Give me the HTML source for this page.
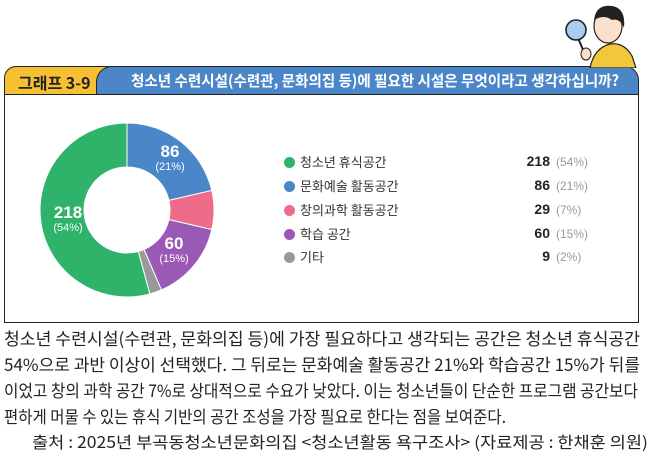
<!DOCTYPE html>
<html><head><meta charset="utf-8">
<style>
html,body{margin:0;padding:0;background:#fff;}
body{width:658px;height:463px;position:relative;overflow:hidden;font-family:"Liberation Sans","Noto Sans CJK KR",sans-serif;}
.abs{position:absolute;white-space:nowrap;}
.box{position:absolute;left:4px;top:94px;width:633px;height:227px;border:1.5px solid #222;background:#fff;}
.tab{position:absolute;left:4px;top:66px;width:110px;height:29px;background:#f6c033;border-radius:12px 0 0 0;border:1.5px solid #222;border-bottom:none;box-sizing:border-box;}
.bar{position:absolute;left:96px;top:66px;width:543px;height:29px;background:#4a86c8;border-radius:16px 14px 0 0;border:1.5px solid #222;border-bottom:none;box-sizing:border-box;}
.tabt{left:18px;top:70px;font-size:16px;font-weight:bold;color:#222;font-family:"Noto Sans CJK KR",sans-serif;}
.bart{left:131px;top:70px;font-size:15px;font-weight:bold;color:#fff;font-family:"Noto Sans CJK KR",sans-serif;}
.leg{font-size:13px;color:#333;font-family:"Noto Sans CJK KR",sans-serif;}
.dot{position:absolute;width:11px;height:11px;border-radius:50%;}
.num{font-size:14px;font-weight:bold;color:#222;text-align:right;width:60px;}
.pct{font-size:12px;color:#999;}
.para{left:4px;font-size:17px;color:#222;font-family:"Noto Sans CJK KR",sans-serif;transform-origin:0 0;}
.fit{display:inline-block;}
</style></head><body>
<div class="tab"></div>
<div class="bar"></div>
<div class="abs tabt">그래프 3-9</div>
<div class="abs bart fit" data-w="488" style="transform-origin:0 0">청소년 수련시설(수련관, 문화의집 등)에 필요한 시설은 무엇이라고 생각하십니까?</div>
<div class="box"></div>

<svg class="abs" style="left:560px;top:0" width="80" height="68" viewBox="0 0 80 68">
<path d="M30 68 Q34 48 50 44 Q64 42 72 56 L76 68 Z" fill="#f3c73b" stroke="#222" stroke-width="1.2"/>
<ellipse cx="48" cy="26" rx="14" ry="17" fill="#fbe0cc" stroke="#222" stroke-width="1.2"/>
<path d="M34 20 Q36 4 52 6 Q66 8 64 28 Q60 18 52 20 Q44 14 34 20 Z" fill="#222"/>
<line x1="18" y1="38" x2="24" y2="52" stroke="#222" stroke-width="2"/>
<circle cx="16" cy="30" r="10" fill="#a9cdef" stroke="#222" stroke-width="1.6"/>
<ellipse cx="26" cy="54" rx="5" ry="6" fill="#fbe0cc" stroke="#222" stroke-width="1"/>
</svg>

<svg id="donut" class="abs" style="left:0;top:0" width="320" height="320"></svg>

<div class="abs" style="left:50px;top:203px;color:#fff;font-size:17px;font-weight:bold;width:36px;text-align:center">218</div>
<div class="abs" style="left:50px;top:222px;color:#fff;font-size:11px;width:36px;text-align:center">(54%)</div>
<div class="abs" style="left:152px;top:142px;color:#fff;font-size:17px;font-weight:bold;width:36px;text-align:center">86</div>
<div class="abs" style="left:152px;top:161px;color:#fff;font-size:11px;width:36px;text-align:center">(21%)</div>
<div class="abs" style="left:156px;top:234px;color:#fff;font-size:17px;font-weight:bold;width:36px;text-align:center">60</div>
<div class="abs" style="left:156px;top:253px;color:#fff;font-size:11px;width:36px;text-align:center">(15%)</div>

<div class="dot" style="left:284px;top:157px;background:#2fb36b"></div>
<div class="dot" style="left:284px;top:181px;background:#4a86c8"></div>
<div class="dot" style="left:284px;top:205px;background:#ef6b8a"></div>
<div class="dot" style="left:284px;top:229px;background:#9b59b6"></div>
<div class="dot" style="left:284px;top:252px;background:#999"></div>
<div class="abs leg" style="left:300px;top:152px">청소년 휴식공간</div>
<div class="abs leg" style="left:300px;top:176px">문화예술 활동공간</div>
<div class="abs leg" style="left:300px;top:200px">창의과학 활동공간</div>
<div class="abs leg" style="left:300px;top:224px">학습 공간</div>
<div class="abs leg" style="left:300px;top:247px">기타</div>
<div class="abs num" style="left:490px;top:153px">218</div>
<div class="abs num" style="left:490px;top:177px">86</div>
<div class="abs num" style="left:490px;top:201px">29</div>
<div class="abs num" style="left:490px;top:225px">60</div>
<div class="abs num" style="left:490px;top:248px">9</div>
<div class="abs pct" style="left:556px;top:155px">(54%)</div>
<div class="abs pct" style="left:556px;top:179px">(21%)</div>
<div class="abs pct" style="left:556px;top:203px">(7%)</div>
<div class="abs pct" style="left:556px;top:227px">(15%)</div>
<div class="abs pct" style="left:556px;top:250px">(2%)</div>

<div class="abs para fit" data-w="636" style="top:325px">청소년 수련시설(수련관, 문화의집 등)에 가장 필요하다고 생각되는 공간은 청소년 휴식공간</div>
<div class="abs para fit" data-w="636" style="top:351px">54%으로 과반 이상이 선택했다. 그 뒤로는 문화예술 활동공간 21%와 학습공간 15%가 뒤를</div>
<div class="abs para fit" data-w="634" style="top:377px">이었고 창의 과학 공간 7%로 상대적으로 수요가 낮았다. 이는 청소년들이 단순한 프로그램 공간보다</div>
<div class="abs para fit" data-w="502" style="top:403px">편하게 머물 수 있는 휴식 기반의 공간 조성을 가장 필요로 한다는 점을 보여준다.</div>
<div class="abs para fit" data-w="616" style="left:32px;top:429px;font-size:16px">출처 : 2025년 부곡동청소년문화의집 &lt;청소년활동 욕구조사&gt; (자료제공 : 한채훈 의원)</div>

<script>
(function(){
var cx=127,cy=210,R=87,r=43;
var d=[[86,'#4a86c8'],[29,'#ef6b8a'],[60,'#9b59b6'],[9,'#999'],[218,'#2fb36b']];
var tot=402,a=-Math.PI/2,s='';
function p(rad,t){return (cx+rad*Math.cos(t)).toFixed(2)+' '+(cy+rad*Math.sin(t)).toFixed(2);}
d.forEach(function(x){
 var b=a+x[0]/tot*2*Math.PI, l=(b-a)>Math.PI?1:0;
 s+='<path d="M'+p(R,a)+' A'+R+' '+R+' 0 '+l+' 1 '+p(R,b)+' L'+p(r,b)+' A'+r+' '+r+' 0 '+l+' 0 '+p(r,a)+' Z" fill="'+x[1]+'" stroke="#fff" stroke-width="1"/>';
 a=b;});
document.getElementById('donut').innerHTML=s;
var f=document.querySelectorAll('.fit');
for(var i=0;i<f.length;i++){var w=f[i].getBoundingClientRect().width;var t=+f[i].getAttribute('data-w');if(w>0)f[i].style.transform='scaleX('+(t/w)+')';}
})();
</script>
</body></html>
